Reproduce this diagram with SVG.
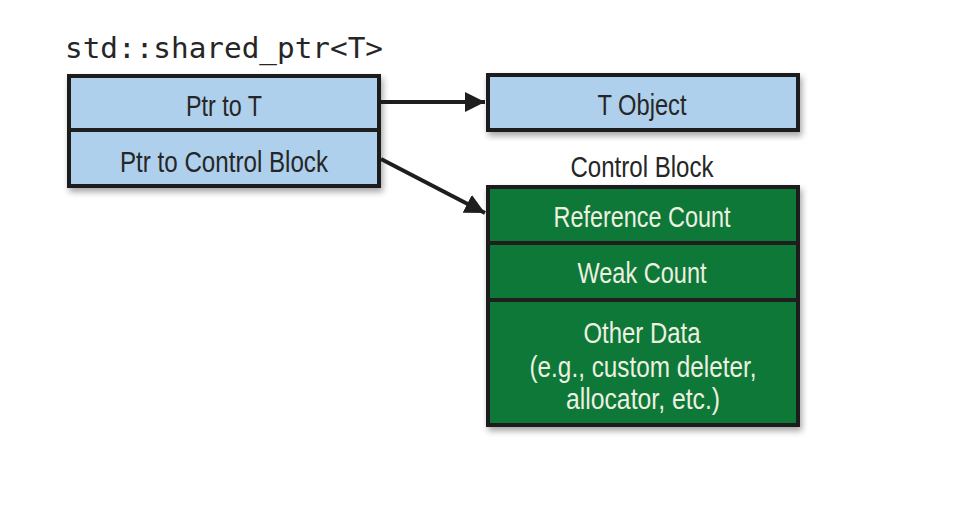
<svg xmlns="http://www.w3.org/2000/svg" width="976" height="510" viewBox="0 0 976 510">
<style>
.box{stroke:#1e1e1e;stroke-width:4}
.blue{fill:#afd0ec}
.green{fill:#0a7839}
.t{font-family:"Liberation Sans",Arial,sans-serif;font-size:30px;text-anchor:middle}
.dark{fill:#262626}
.light{fill:#eef0e0}
.conn{stroke:#1e1e1e;stroke-width:4;fill:none}
</style>
<defs>
<filter id="sh" x="-10%" y="-10%" width="120%" height="130%">
<feDropShadow dx="2" dy="4" stdDeviation="3" flood-color="#000" flood-opacity="0.35"/>
</filter>
<marker id="ah" viewBox="0 0 10 10" refX="10" refY="5" markerWidth="5" markerHeight="5" markerUnits="strokeWidth" orient="auto">
<path d="M0,0 L10,5 L0,10 z" fill="#1e1e1e"/>
</marker>
</defs>
<rect width="976" height="510" fill="#ffffff"/>
<text x="65" y="58" font-family="'DejaVu Sans Mono','Liberation Mono',monospace" font-size="29" fill="#262626" textLength="318" lengthAdjust="spacingAndGlyphs">std::shared_ptr&lt;T&gt;</text>
<g id="shared_ptr">
<rect x="69" y="76" width="310" height="110" class="box blue" filter="url(#sh)"/>
<line x1="69" y1="130" x2="379" y2="130" class="box"/>
<text x="224" y="116" class="t dark" textLength="76" lengthAdjust="spacingAndGlyphs">Ptr to T</text>
<text x="224" y="172" class="t dark" textLength="208" lengthAdjust="spacingAndGlyphs">Ptr to Control Block</text>
</g>
<g id="t_object">
<rect x="488" y="75" width="310" height="55" class="box blue" filter="url(#sh)"/>
<text x="642" y="115" class="t dark" textLength="89" lengthAdjust="spacingAndGlyphs">T Object</text>
</g>
<g id="control_block">
<text x="642" y="177" class="t dark" textLength="143" lengthAdjust="spacingAndGlyphs">Control Block</text>
<rect x="488" y="187" width="310" height="238" class="box green" filter="url(#sh)"/>
<line x1="488" y1="243" x2="798" y2="243" class="box"/>
<line x1="488" y1="300" x2="798" y2="300" class="box"/>
<text x="642" y="227" class="t light" textLength="177" lengthAdjust="spacingAndGlyphs">Reference Count</text>
<text x="642" y="283" class="t light" textLength="129" lengthAdjust="spacingAndGlyphs">Weak Count</text>
<text x="642" y="343" class="t light" textLength="117" lengthAdjust="spacingAndGlyphs">Other Data</text>
<text x="643" y="377" class="t light" textLength="227" lengthAdjust="spacingAndGlyphs">(e.g., custom deleter,</text>
<text x="643" y="409" class="t light" textLength="154" lengthAdjust="spacingAndGlyphs">allocator, etc.)</text>
</g>
<g id="connectors">
<line x1="381" y1="102" x2="485" y2="102" class="conn" marker-end="url(#ah)"/>
<line x1="381" y1="159" x2="485" y2="213" class="conn" marker-end="url(#ah)"/>
</g>
</svg>
